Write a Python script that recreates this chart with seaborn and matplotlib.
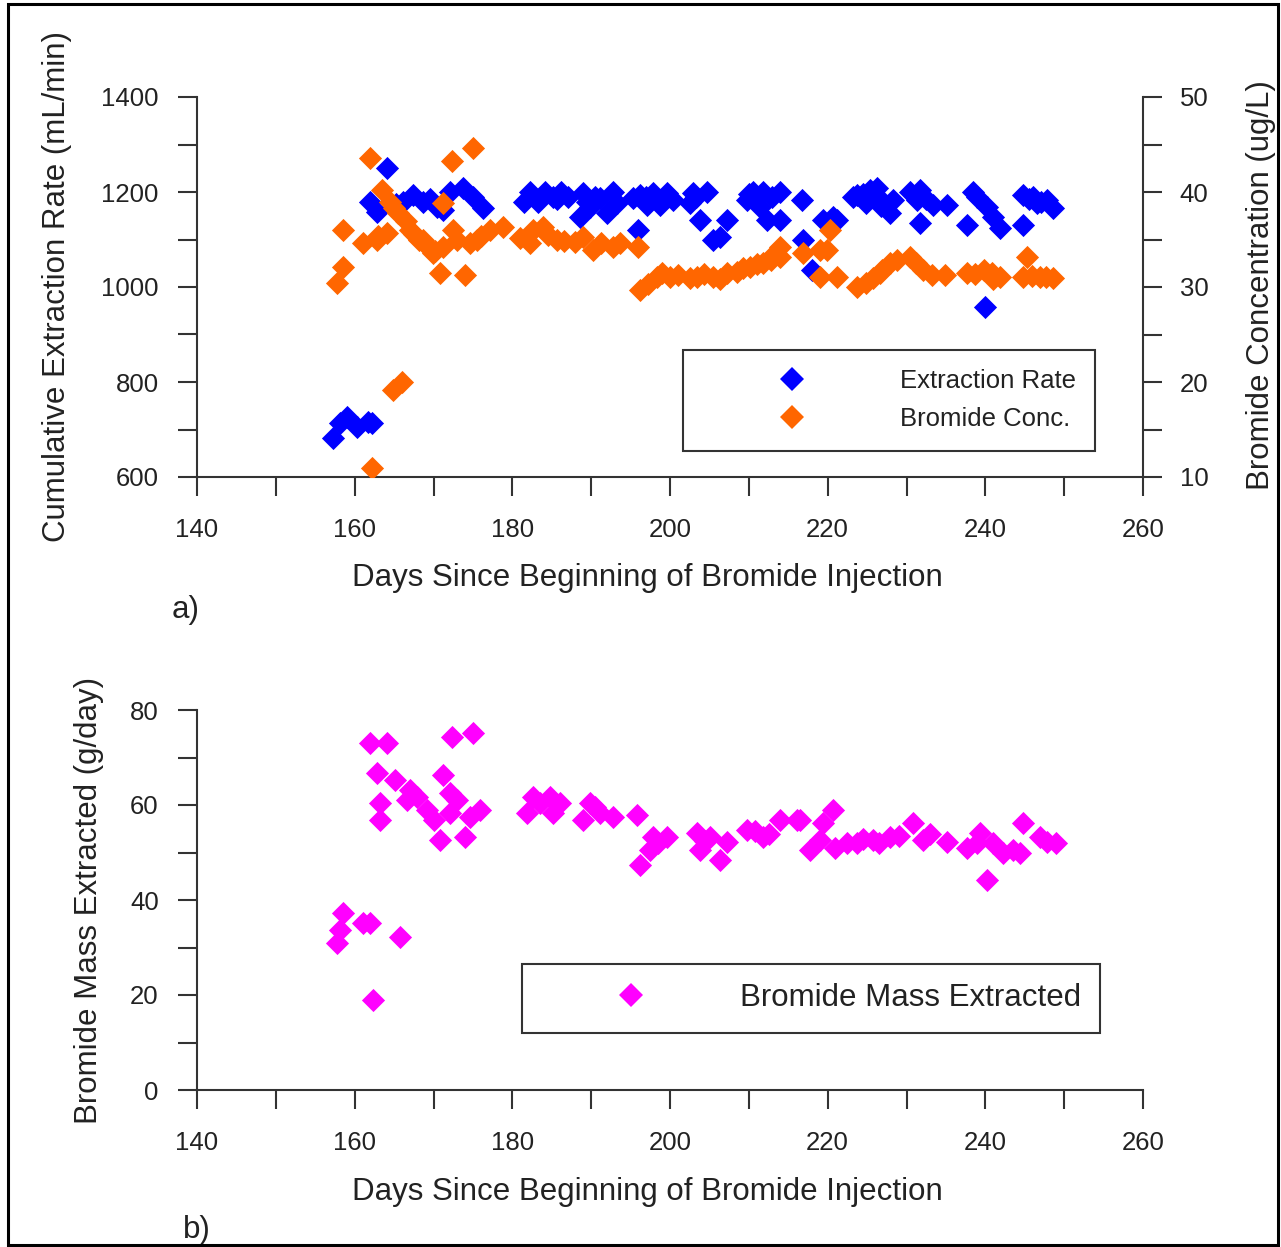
import numpy as np
import pandas as pd
import seaborn as sns
import matplotlib.pyplot as plt
from matplotlib.lines import Line2D
from matplotlib.patches import Rectangle
from matplotlib.ticker import MultipleLocator

# --- data -----------------------------------------------------------------
rate_days = [157.3, 158.1, 159.0, 160.3, 161.7, 162.2,
             161.9, 162.8, 164.1, 165.2, 166.1, 167.4, 168.7, 169.5, 170.4, 171.2,
             172.1, 173.7, 175.0, 176.3,
             181.5, 182.3, 182.8, 183.3, 184.2, 185.2, 185.7, 186.2, 187.0,
             188.6, 189.0, 189.5, 189.9, 190.5, 191.1, 192.0, 192.8, 193.3, 195.9,
             195.3, 196.2, 197.0, 197.1, 197.8, 198.7, 199.0, 199.6, 200.4,
             202.5, 202.9, 203.3, 203.8, 204.7, 205.5, 206.3, 207.2,
             209.8, 210.0, 210.5, 211.4, 211.8, 212.3, 213.0, 214.0, 214.0, 216.7,
             216.9, 218.0, 219.4, 220.7, 221.2,
             223.2, 223.7, 224.5, 224.9, 225.4, 226.0, 226.3, 226.8, 227.0, 227.9, 228.3,
             230.4, 231.3, 231.7, 231.7, 232.5, 233.4, 235.1,
             237.7, 238.4, 239.0, 240.0, 240.2, 241.0, 241.9, 244.8,
             244.8, 245.5, 246.1, 246.6, 247.0, 247.8, 248.6]
rate_vals = [682, 714, 727, 705, 716, 714,
             1179, 1158, 1251, 1175, 1179, 1194, 1179, 1185, 1168, 1162,
             1200, 1208, 1189, 1166,
             1180, 1200, 1190, 1180, 1200, 1190, 1185, 1200, 1190,
             1147, 1198, 1180, 1168, 1190, 1187, 1156, 1200, 1177, 1120,
             1187, 1194, 1190, 1173, 1198, 1173, 1185, 1198, 1183,
             1177, 1198, 1190, 1141, 1200, 1099, 1105, 1141,
             1183, 1195, 1200, 1168, 1200, 1141, 1190, 1200, 1141, 1183,
             1099, 1036, 1141, 1147, 1141,
             1190, 1194, 1195, 1177, 1204, 1190, 1208, 1170, 1179, 1156, 1183,
             1200, 1183, 1204, 1135, 1185, 1173, 1173,
             1131, 1200, 1190, 958, 1168, 1147, 1124, 1131,
             1194, 1185, 1190, 1177, 1180, 1183, 1166]

conc_days = [157.8, 158.5, 158.5, 161.1, 161.9, 162.2, 162.8, 163.0, 163.5, 164.1, 164.5,
             164.9, 165.0, 165.5, 166.0, 166.5, 167.0, 167.5, 168.2, 168.7, 169.2, 169.9,
             170.2, 170.8, 171.2, 171.2,
             172.3, 172.5, 173.0, 174.0, 174.6, 175.0, 175.5, 176.0, 177.2, 178.8,
             181.0, 182.2, 182.6, 183.9, 184.5, 185.7, 186.5,
             188.0, 189.0, 190.2, 191.2, 192.8, 193.6, 195.9,
             196.2, 197.2, 198.4, 199.0, 200.0, 201.0, 202.5, 203.4, 204.3, 205.5,
             206.3, 207.2, 208.5, 209.3, 210.2, 211.0, 211.8, 212.8, 213.2, 214.0, 214.0,
             216.9, 219.0, 219.0, 219.9, 220.3, 221.2,
             223.7, 224.9, 225.8, 226.6, 226.9, 227.9, 228.8, 230.4, 231.2, 232.1,
             233.2, 234.9, 237.7, 238.7, 239.8, 240.8, 241.0, 241.9,
             244.8, 245.3, 245.9, 246.9, 247.7, 248.6]
conc_vals = [30.4, 32.1, 36.0, 34.6, 43.6, 11.0, 35.0, 35.4, 40.2, 35.7, 38.9,
             19.2, 38.3, 37.8, 20.0, 37.0, 36.0, 35.6, 34.9, 35.0, 34.3, 33.6,
             33.8, 31.5, 38.8, 34.2,
             43.3, 36.0, 35.0, 31.3, 34.6, 44.6, 35.0, 35.4, 36.0, 36.3,
             35.2, 34.6, 36.0, 36.3, 35.5, 35.0, 34.8,
             34.7, 35.3, 33.9, 34.6, 34.2, 34.6, 34.2,
             29.7, 30.3, 31.1, 31.5, 31.1, 31.3, 31.0, 31.1, 31.4, 31.1,
             30.8, 31.5, 31.6, 32.0, 32.1, 32.4, 32.5, 32.8, 33.5, 33.2, 34.2,
             33.6, 33.9, 31.1, 33.9, 36.0, 31.1,
             30.0, 30.4, 30.9, 31.5, 31.8, 32.5, 32.8, 33.2, 32.5, 31.8,
             31.3, 31.3, 31.5, 31.4, 31.8, 31.5, 30.8, 31.1,
             31.1, 33.2, 31.2, 31.1, 31.1, 31.0]

mass_days = [157.8, 158.1, 158.5, 161.1, 161.9, 162.3, 165.8,
             161.9, 164.1, 172.3, 175.0, 162.8, 171.2, 165.1, 167.0, 167.9, 166.6,
             169.2, 170.0, 172.1, 173.0, 172.1, 175.9, 174.6, 163.2, 163.2, 170.8, 174.0,
             181.9, 182.6, 183.5, 184.8, 185.2, 186.0, 189.0, 189.9, 190.5, 191.1, 192.8,
             195.8, 196.2, 197.5, 197.8, 198.5, 199.6, 203.4, 203.8, 204.5, 205.1,
             206.3, 207.2, 209.8, 210.8, 211.8, 212.5, 214.0, 216.1, 216.5, 217.8, 219.0,
             219.4, 220.7, 220.9, 222.5, 223.7, 224.5, 225.8, 226.5, 227.9, 229.0,
             230.8, 232.1, 233.0, 235.1, 237.7, 239.0, 239.3, 240.2, 241.0,
             242.3, 243.5, 244.4, 244.8, 246.9, 247.8, 249.0]
mass_vals = [31.0, 33.7, 37.3, 35.2, 35.2, 18.9, 32.2,
             73.0, 73.0, 74.3, 75.1, 66.7, 66.3, 65.3, 63.2, 61.7, 61.1,
             58.9, 56.8, 62.5, 61.1, 58.3, 58.9, 57.5, 60.4, 56.8, 52.6, 53.3,
             58.3, 61.7, 60.5, 61.7, 58.3, 60.4, 56.8, 60.4, 59.5, 58.3, 57.5,
             58.0, 47.4, 50.5, 53.3, 52.0, 53.3, 54.1, 50.5, 52.5, 53.3,
             48.4, 52.2, 54.7, 54.5, 53.3, 54.0, 56.8, 56.8, 56.8, 50.5, 52.6,
             56.2, 58.9, 50.9, 52.0, 52.0, 52.8, 52.6, 52.0, 53.3, 53.5,
             56.2, 52.6, 53.8, 52.2, 50.9, 52.0, 54.1, 44.2, 52.0,
             49.9, 50.5, 49.9, 56.2, 53.3, 52.3, 52.0]

rate_df = pd.DataFrame({"day": rate_days, "rate": rate_vals})
conc_df = pd.DataFrame({"day": conc_days, "conc": conc_vals})
mass_df = pd.DataFrame({"day": mass_days, "mass": mass_vals})

BLUE, ORANGE, MAGENTA = "#0000ff", "#ff6600", "#ff00ff"
INK = "#222222"

sns.set_style("ticks")
plt.rcParams["font.family"] = ["Liberation Sans", "DejaVu Sans"]
plt.rcParams["text.color"] = INK
plt.rcParams["axes.labelcolor"] = INK

W, H = 1281, 1247
fig = plt.figure(figsize=(W / 100, H / 100), dpi=100)
ax_a = fig.add_axes([197 / W, 1 - 477 / H, 946 / W, 380 / H])
ax_b = fig.add_axes([197 / W, 1 - 1090 / H, 946 / W, 380 / H])
ax_a2 = ax_a.twinx()

ms = 11.8
sz = ms ** 2
sns.scatterplot(data=rate_df, x="day", y="rate", ax=ax_a, marker="D", s=sz,
                color=BLUE, linewidth=0, legend=False, zorder=3)
sns.scatterplot(data=conc_df, x="day", y="conc", ax=ax_a2, marker="D", s=sz,
                color=ORANGE, linewidth=0, legend=False, zorder=3)
sns.scatterplot(data=mass_df, x="day", y="mass", ax=ax_b, marker="D", s=sz,
                color=MAGENTA, linewidth=0, legend=False, zorder=3)


def style_axis(ax, sides):
    for s in ["top", "bottom", "left", "right"]:
        ax.spines[s].set_visible(s in sides)
        ax.spines[s].set_linewidth(1.5)
        ax.spines[s].set_color("#333333")
    ax.tick_params(which="both", length=13.5, width=1.5, color="#333333",
                   labelsize=18.5, labelcolor=INK)
    ax.tick_params(axis="x", which="both", pad=16)
    ax.tick_params(axis="y", which="both", pad=14)
    ax.set_facecolor("none")


ax_a.set_xlim(140, 260)
ax_a.set_ylim(600, 1400)
ax_a.xaxis.set_major_locator(MultipleLocator(20))
ax_a.xaxis.set_minor_locator(MultipleLocator(10))
ax_a.yaxis.set_major_locator(MultipleLocator(200))
ax_a.yaxis.set_minor_locator(MultipleLocator(100))
style_axis(ax_a, ["bottom", "left"])

ax_a2.set_ylim(10, 50)
ax_a2.yaxis.set_major_locator(MultipleLocator(10))
ax_a2.yaxis.set_minor_locator(MultipleLocator(5))
style_axis(ax_a2, ["right"])
ax_a2.tick_params(axis="y", which="both", pad=13)

ax_b.set_xlim(140, 260)
ax_b.set_ylim(0, 80)
ax_b.xaxis.set_major_locator(MultipleLocator(20))
ax_b.xaxis.set_minor_locator(MultipleLocator(10))
ax_b.yaxis.set_major_locator(MultipleLocator(20))
ax_b.yaxis.set_minor_locator(MultipleLocator(10))
style_axis(ax_b, ["bottom", "left"])

lab = 22.5
ax_a.set_xlabel("Days Since Beginning of Bromide Injection", fontsize=lab)
ax_a.set_ylabel("Cumulative Extraction Rate (mL/min)", fontsize=lab)
ax_a2.set_ylabel("Bromide Concentration (ug/L)", fontsize=lab)
ax_b.set_xlabel("Days Since Beginning of Bromide Injection", fontsize=lab)
ax_b.set_ylabel("Bromide Mass Extracted (g/day)", fontsize=lab)
ax_a.xaxis.set_label_coords(0.476, -0.226)
ax_b.xaxis.set_label_coords(0.476, -0.229)
ax_a.yaxis.set_label_coords(-0.132, 0.5)
ax_a2.yaxis.set_label_coords(1.109, 0.505)
ax_b.yaxis.set_label_coords(-0.098, 0.5)

# legends
def handle(c):
    return Line2D([], [], marker="D", ls="none", ms=ms, color=c, mec=c, mew=0)


leg_a = ax_a2.legend([handle(BLUE), handle(ORANGE)], ["Extraction Rate", "Bromide Conc."],
                     loc="upper left", bbox_to_anchor=(683 / W, 1 - 350 / H),
                     bbox_transform=fig.transFigure, borderaxespad=0, fontsize=18.5,
                     borderpad=0.75, handlelength=7.0, handletextpad=0.7,
                     labelspacing=0.55, fancybox=False, framealpha=1,
                     edgecolor="#333333")
leg_a.get_frame().set_linewidth(1.5)

leg_b = ax_b.legend([handle(MAGENTA)], ["Bromide Mass Extracted"],
                    loc="upper left", bbox_to_anchor=(522 / W, 1 - 964 / H),
                    bbox_transform=fig.transFigure, borderaxespad=0, fontsize=lab,
                    borderpad=0.62, handlelength=5.75, handletextpad=0.6,
                    fancybox=False, framealpha=1, edgecolor="#333333")
leg_b.get_frame().set_linewidth(1.5)

fig.text(172 / W, 1 - 610 / H, "a)", fontsize=lab, va="center", ha="left")
fig.text(183 / W, 1 - 1230 / H, "b)", fontsize=lab, va="center", ha="left")

fig.patches.append(Rectangle((8 / W, 2 / H), 1270 / W, 1241 / H, transform=fig.transFigure,
                             fill=False, lw=2.2, edgecolor="black", zorder=10))

fig.savefig("out.png", dpi=100)
